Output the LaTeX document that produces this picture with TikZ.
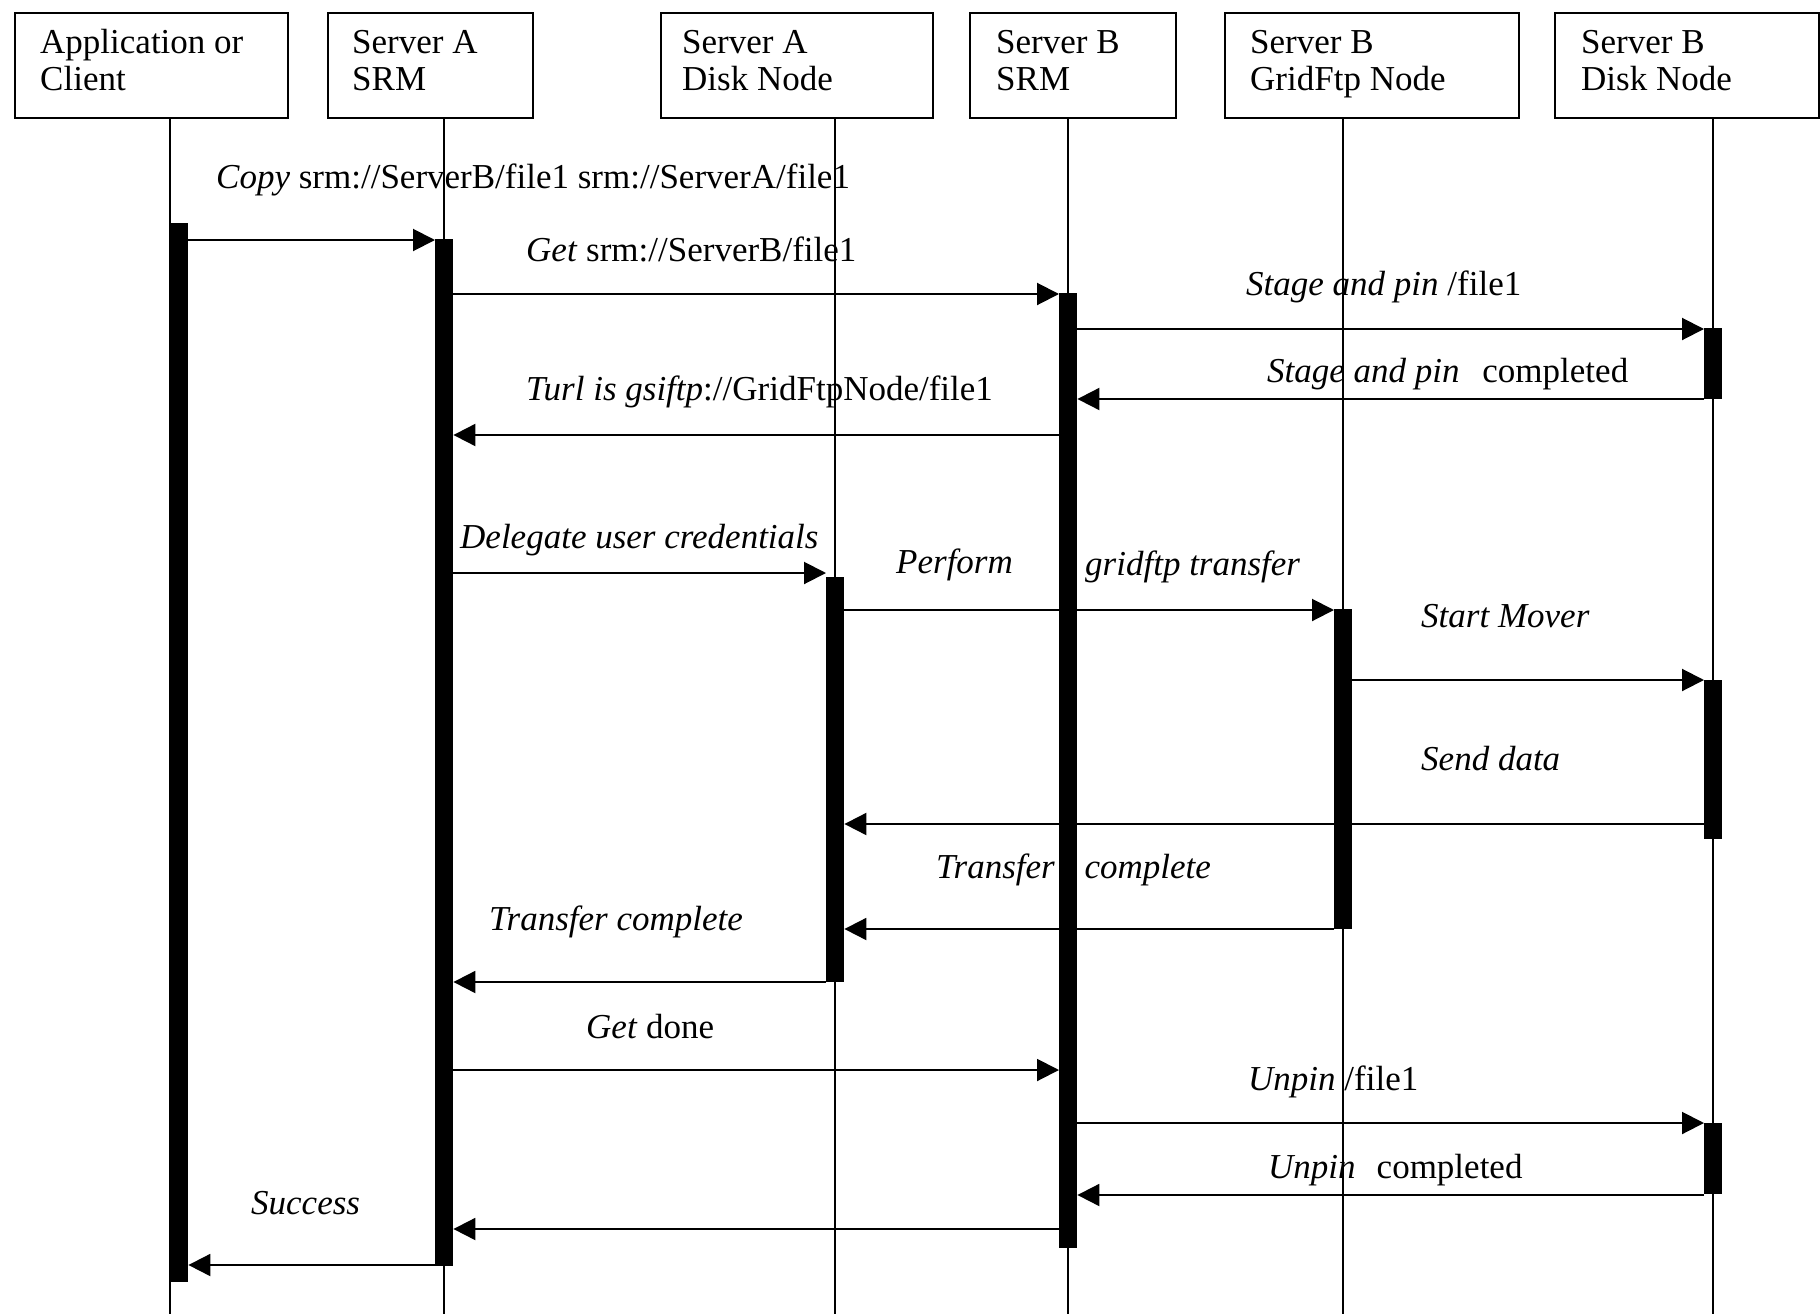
\documentclass[tikz,border=0pt]{standalone}
\usepackage{fontspec}
\setmainfont{Liberation Serif}
\usetikzlibrary{arrows.meta}
\begin{document}
\begin{tikzpicture}[x=1pt,y=-1pt,
  hdr/.style={draw, line width=2pt, anchor=north west, inner sep=0pt, minimum height=105pt},
  txt/.style={anchor=base west, inner sep=0pt, font=\fontsize{35}{40}\selectfont},
  life/.style={line width=1.6pt},
  actbar/.style={fill=black, anchor=north west, inner sep=0pt, minimum width=18pt},
  msg/.style={line width=2pt, -{Triangle[length=22pt,width=22pt]}},
]
\fill[white] (0,0) rectangle (1820,1314);
\useasboundingbox (0,0) rectangle (1820,1314);

% header boxes
\node[hdr, minimum width=273pt] (b1) at (14,12) {};
\node[hdr, minimum width=205pt] (b2) at (327,12) {};
\node[hdr, minimum width=272pt] (b3) at (660,12) {};
\node[hdr, minimum width=206pt] (b4) at (969,12) {};
\node[hdr, minimum width=294pt] (b5) at (1224,12) {};
\node[hdr, minimum width=264pt] (b6) at (1554,12) {};

\node[txt] (t1a) at (40,53) {Application or};
\node[txt] (t1b) at (40,91) {Client};
\node[txt] (t2a) at (352,53) {Server A};
\node[txt] (t2b) at (352,91) {SRM};
\node[txt] (t3a) at (682,53) {Server A};
\node[txt] (t3b) at (682,91) {Disk Node};
\node[txt] (t4a) at (996,53) {Server B};
\node[txt] (t4b) at (996,91) {SRM};
\node[txt] (t5a) at (1250,53) {Server B};
\node[txt] (t5b) at (1250,91) {GridFtp Node};
\node[txt] (t6a) at (1581,53) {Server B};
\node[txt] (t6b) at (1581,91) {Disk Node};

% lifelines
\coordinate (l1) at (170,117);
\coordinate (l2) at (444,117);
\coordinate (l3) at (835,117);
\coordinate (l4) at (1068,117);
\coordinate (l5) at (1343,117);
\coordinate (l6) at (1713,117);
\foreach \l in {l1,l2,l3,l4,l5,l6}{
  \draw[life] (\l) -- (\l |- 0,1314);
}

% activation bars
\node[actbar, minimum height=1059pt] (cbar) at (170,223) {};
\node[actbar, minimum height=1027pt] (sabar) at (435,239) {};
\node[actbar, minimum height=955pt] (sbbar) at (1059,293) {};
\node[actbar, minimum height=71pt] (db1) at (1704,328) {};
\node[actbar, minimum height=405pt] (dabar) at (826,577) {};
\node[actbar, minimum height=320pt] (gbar) at (1334,609) {};
\node[actbar, minimum height=159pt] (db2) at (1704,680) {};
\node[actbar, minimum height=71pt] (db3) at (1704,1123) {};

% messages
\draw[msg] (cbar.east |- 0,240) -- (sabar.west |- 0,240);
\draw[msg] (sabar.east |- 0,294) -- (sbbar.west |- 0,294);
\draw[msg] (sbbar.east |- 0,329) -- (db1.west |- 0,329);
\draw[msg] (db1.west |- 0,399) -- (sbbar.east |- 0,399);
\draw[msg] (sbbar.west |- 0,435) -- (sabar.east |- 0,435);
\draw[msg] (sabar.east |- 0,573) -- (dabar.west |- 0,573);
\draw[msg] (dabar.east |- 0,610) -- (gbar.west |- 0,610);
\draw[msg] (gbar.east |- 0,680) -- (db2.west |- 0,680);
\draw[msg] (db2.west |- 0,824) -- (dabar.east |- 0,824);
\draw[msg] (gbar.west |- 0,929) -- (dabar.east |- 0,929);
\draw[msg] (dabar.west |- 0,982) -- (sabar.east |- 0,982);
\draw[msg] (sabar.east |- 0,1070) -- (sbbar.west |- 0,1070);
\draw[msg] (sbbar.east |- 0,1123) -- (db3.west |- 0,1123);
\draw[msg] (db3.west |- 0,1195) -- (sbbar.east |- 0,1195);
\draw[msg] (sbbar.west |- 0,1229) -- (sabar.east |- 0,1229);
\draw[msg] (sabar.west |- 0,1265) -- (cbar.east |- 0,1265);

% message labels
\node[txt] (m1) at (216,188) {\textit{Copy} srm://ServerB/file1 srm://ServerA/file1};
\node[txt] (m2) at (526,261) {\textit{Get} srm://ServerB/file1};
\node[txt] (m3) at (1246,295) {\textit{Stage and pin} /file1};
\node[txt] (m4) at (1267,382) {\textit{Stage and pin}\hspace{0.65em}completed};
\node[txt] (m5) at (526,400) {\textit{Turl is gsiftp}://GridFtpNode/file1};
\node[txt] (m6) at (460,548) {\textit{Delegate user credentials}};
\node[txt] (m7a) at (896,573) {\textit{Perform}};
\node[txt] (m7b) at (1085,575) {\textit{gridftp transfer}};
\node[txt] (m8) at (1421,627) {\textit{Start Mover}};
\node[txt] (m9) at (1421,770) {\textit{Send data}};
\node[txt] (m10) at (936,878) {\textit{Transfer\hspace{0.85em}complete}};
\node[txt] (m11) at (489,930) {\textit{Transfer complete}};
\node[txt] (m12) at (586,1038) {\textit{Get} done};
\node[txt] (m13) at (1248,1090) {\textit{Unpin} /file1};
\node[txt] (m14) at (1268,1178) {\textit{Unpin}\hspace{0.6em}completed};
\node[txt] (m15) at (251,1214) {\textit{Success}};
\end{tikzpicture}
\end{document}
